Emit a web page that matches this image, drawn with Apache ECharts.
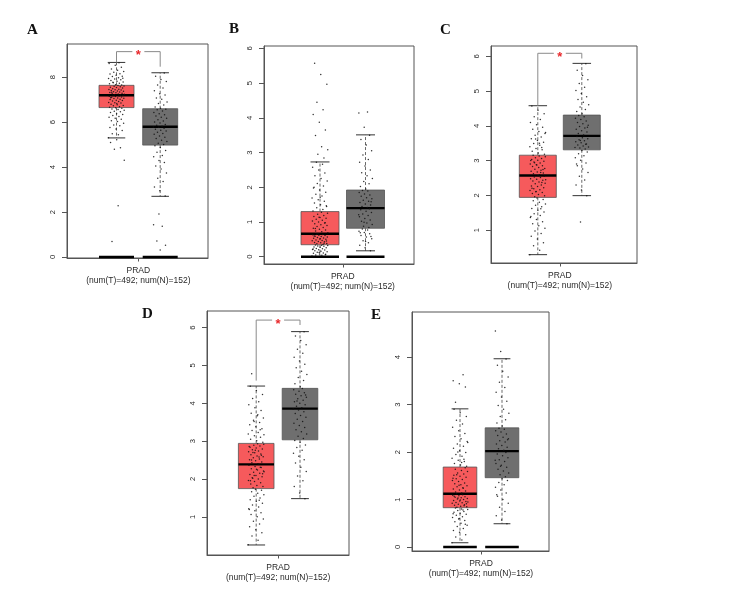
<!DOCTYPE html>
<html><head><meta charset="utf-8">
<script src="https://cdn.jsdelivr.net/npm/echarts@6/dist/echarts.min.js"></script>
<style>html,body{margin:0;padding:0;background:#fff}#c{width:750px;height:600px}</style>
</head><body><div id="c"></div>
<script>
// ---------- DATA ----------
const panels = ['A', 'B', 'C', 'D', 'E'];
const xLabel = 'PRAD\n(num(T)=492; num(N)=152)';

// y tick labels
const yTicksA = [0, 2, 4, 6, 8];
const yTicksB = [0, 1, 2, 3, 4, 5, 6];
const yTicksC = [1, 2, 3, 4, 5, 6];
const yTicksD = [1, 2, 3, 4, 5, 6];
const yTicksE = [0, 1, 2, 3, 4];

// box stats: [lower whisker, Q1, median, Q3, upper whisker]
const boxA_T = [5.3, 6.65, 7.2, 7.64, 8.66];
const boxA_N = [2.7, 4.98, 5.8, 6.6, 8.2];
const boxB_T = [0, 0.345, 0.66, 1.30, 2.73];
const boxB_N = [0.17, 0.82, 1.40, 1.92, 3.51];
const boxC_T = [0.29, 1.94, 2.57, 3.155, 4.58];
const boxC_N = [1.99, 3.31, 3.71, 4.31, 5.80];
const boxD_T = [0.255, 1.745, 2.386, 2.94, 4.456];
const boxD_N = [1.48, 3.035, 3.86, 4.395, 5.895];
const boxE_T = [0.09, 0.828, 1.123, 1.684, 2.91];
const boxE_N = [0.49, 1.46, 2.02, 2.51, 3.965];

// zero bars (groups with expression 0 drawn as flat bars)
const zeroA = true, zeroB = true, zeroC = false, zeroD = false, zeroE = true;

// significance brackets: [bracket level, left leg end, right leg end]
const sigA = [9.14, 8.66, 8.47];
const sigB = null;
const sigC = [6.09, 4.58, 5.94];
const sigD = [6.2, 4.6, 6.07];
const sigE = null;

// jittered points
const ptsA_T = [5.31,5.44,5.49,5.63,5.7,5.76,5.84,5.87,5.95,6.03,6.06,6.13,6.18,6.22,6.25,6.3,6.34,6.37,6.43,6.46,6.49,6.53,6.56,6.59,6.62,6.64,
6.66,6.69,6.73,6.74,6.78,6.8,6.85,6.87,6.88,6.92,6.94,6.97,6.98,7.01,7.02,7.05,7.06,7.08,7.11,7.12,7.14,7.15,7.17,7.18,7.19,6.83,7.09,
7.21,7.22,7.24,7.25,7.27,7.29,7.31,7.32,7.34,7.36,7.38,7.39,7.41,7.43,7.44,7.46,7.47,7.49,7.52,7.54,7.55,7.58,7.6,7.61,7.63,7.33,
7.66,7.67,7.71,7.73,7.76,7.79,7.82,7.85,7.89,7.92,7.94,7.98,8.03,8.05,8.09,8.14,8.16,8.22,8.26,8.31,8.37,8.44,8.53,8.61,8.65,7.78,7.96,
5.22,5.1,4.86,4.79,4.31,2.28,0.69];
const ptsA_N = [2.71,2.95,3.12,3.36,3.5,3.74,3.92,4.05,4.21,4.3,4.46,4.52,4.66,4.74,4.87,4.95,
5.01,5.06,5.14,5.2,5.27,5.33,5.39,5.46,5.5,5.55,5.61,5.64,5.69,5.73,5.77,5.79,
5.82,5.86,5.9,5.96,6.01,6.05,6.11,6.17,6.22,6.28,6.33,6.37,6.43,6.5,6.55,6.58,
6.62,6.68,6.77,6.83,6.9,7.02,7.08,7.21,7.27,7.4,7.52,7.66,7.81,7.9,8.05,8.19,
1.91,1.43,1.37,0.71,0.52,0.31];
const ptsB_T = [0.02,0.04,0.05,0.07,0.08,0.1,0.11,0.13,0.14,0.16,0.17,0.19,0.2,0.21,0.23,0.24,0.26,0.27,0.28,0.3,0.31,0.32,0.33,0.34,0.06,0.12,0.22,
0.35,0.37,0.38,0.4,0.41,0.43,0.44,0.46,0.47,0.48,0.5,0.51,0.53,0.54,0.55,0.57,0.58,0.59,0.61,0.62,0.63,0.64,0.65,0.45,0.52,0.6,0.39,
0.67,0.69,0.72,0.74,0.77,0.79,0.82,0.84,0.87,0.9,0.92,0.95,0.97,1.0,1.03,1.05,1.08,1.11,1.13,1.16,1.19,1.22,1.25,1.28,0.81,0.98,1.14,
1.32,1.36,1.41,1.45,1.5,1.55,1.6,1.64,1.69,1.75,1.8,1.86,1.92,1.98,2.04,2.11,2.18,2.25,2.33,2.41,2.5,2.58,2.66,2.72,1.47,1.71,2.0,
2.84,2.95,3.08,3.17,3.49,3.65,3.87,4.1,4.23,4.45,4.97,5.25,5.57];
const ptsB_N = [0.17,0.26,0.33,0.4,0.46,0.52,0.57,0.61,0.66,0.7,0.73,0.77,0.8,0.58,0.44,0.69,
0.84,0.88,0.93,0.97,1.02,1.06,1.1,1.15,1.19,1.23,1.27,1.31,1.35,1.38,0.99,1.21,
1.42,1.45,1.49,1.52,1.56,1.6,1.63,1.67,1.7,1.74,1.78,1.81,1.85,1.89,1.91,1.58,
1.95,2.02,2.1,2.17,2.25,2.33,2.42,2.5,2.61,2.72,2.8,2.93,3.05,3.22,3.38,3.5,
3.73,4.14,4.17];
const ptsC_T = [0.29,0.42,0.55,0.63,0.74,0.82,0.9,0.97,1.05,1.12,1.18,1.24,1.3,1.36,1.42,1.47,1.52,1.57,1.62,1.67,1.71,1.75,1.8,1.84,1.88,1.92,1.39,1.61,
1.96,1.99,2.02,2.05,2.08,2.11,2.14,2.16,2.19,2.22,2.25,2.27,2.3,2.33,2.35,2.38,2.41,2.43,2.46,2.48,2.51,2.53,2.55,2.56,2.2,2.37,2.1,2.45,
2.59,2.62,2.64,2.67,2.69,2.72,2.75,2.77,2.8,2.83,2.85,2.88,2.9,2.93,2.96,2.98,3.01,3.03,3.06,3.08,3.11,3.13,3.15,2.74,2.87,3.0,2.66,2.94,
3.18,3.22,3.27,3.31,3.35,3.4,3.44,3.49,3.53,3.58,3.63,3.68,3.73,3.78,3.84,3.9,3.96,4.03,4.1,4.18,4.26,4.35,4.45,4.57,3.38,3.62,3.81,3.5];
const ptsC_N = [1.99,2.15,2.3,2.44,2.55,2.66,2.76,2.85,2.93,3.01,3.08,3.14,3.2,3.25,3.29,2.9,
3.33,3.36,3.39,3.42,3.45,3.48,3.51,3.54,3.57,3.6,3.63,3.66,3.69,3.47,3.58,3.38,
3.74,3.78,3.82,3.86,3.9,3.94,3.98,4.02,4.06,4.1,4.14,4.18,4.22,4.26,4.3,3.96,
4.35,4.41,4.47,4.54,4.61,4.68,4.76,4.84,4.93,5.02,5.11,5.22,5.33,5.45,5.6,5.79,
1.23];
const ptsD_T = [0.26,0.38,0.49,0.58,0.66,0.74,0.81,0.88,0.94,1.0,1.06,1.11,1.16,1.21,1.26,1.31,1.36,1.41,1.45,1.5,1.54,1.58,1.62,1.66,1.7,1.73,1.19,1.44,
1.77,1.8,1.83,1.87,1.9,1.93,1.96,2.0,2.03,2.06,2.09,2.12,2.15,2.18,2.21,2.24,2.27,2.3,2.33,2.36,2.38,2.02,2.14,2.26,1.95,2.31,2.09,2.19,
2.4,2.43,2.45,2.48,2.51,2.53,2.56,2.59,2.61,2.64,2.66,2.69,2.72,2.74,2.77,2.79,2.82,2.84,2.87,2.89,2.92,2.93,2.5,2.63,2.76,2.86,2.58,2.7,
2.97,3.01,3.05,3.1,3.14,3.19,3.23,3.28,3.33,3.38,3.43,3.49,3.55,3.61,3.67,3.74,3.81,3.88,3.96,4.04,4.13,4.23,4.34,4.45,3.3,3.52,3.17,3.7,
4.78];
const ptsD_N = [1.48,1.63,1.8,1.95,2.08,2.2,2.31,2.42,2.51,2.6,2.68,2.76,2.83,2.9,2.97,3.02,
3.07,3.13,3.19,3.25,3.3,3.36,3.41,3.47,3.52,3.58,3.63,3.68,3.73,3.78,3.82,3.85,
3.88,3.92,3.96,4.0,4.04,4.08,4.12,4.16,4.2,4.24,4.28,4.32,4.36,4.39,4.06,4.22,
4.44,4.52,4.6,4.68,4.76,4.85,4.94,5.03,5.12,5.22,5.32,5.43,5.55,5.66,5.78,5.89];
const ptsE_T = [0.09,0.15,0.21,0.26,0.31,0.35,0.39,0.43,0.46,0.5,0.53,0.56,0.59,0.62,0.64,0.67,0.69,0.71,0.73,0.75,0.77,0.79,0.8,0.82,0.48,0.6,0.7,0.78,
0.84,0.85,0.86,0.88,0.89,0.9,0.92,0.93,0.94,0.96,0.97,0.98,1.0,1.01,1.02,1.04,1.05,1.06,1.08,1.09,1.1,1.12,0.91,0.99,1.07,0.87,1.03,0.95,
1.14,1.16,1.18,1.2,1.22,1.24,1.27,1.29,1.31,1.33,1.35,1.38,1.4,1.42,1.44,1.47,1.49,1.51,1.54,1.56,1.59,1.61,1.64,1.67,1.3,1.45,1.25,1.52,
1.7,1.73,1.76,1.8,1.83,1.87,1.91,1.95,1.99,2.03,2.08,2.12,2.17,2.22,2.28,2.33,2.39,2.45,2.52,2.59,2.67,2.75,2.83,2.9,1.85,2.0,2.2,1.78,
3.05,3.37,3.44,3.5,3.63];
const ptsE_N = [0.49,0.57,0.66,0.75,0.84,0.92,1.0,1.07,1.14,1.2,1.26,1.31,1.36,1.4,1.44,1.1,
1.48,1.52,1.56,1.6,1.64,1.68,1.72,1.76,1.8,1.84,1.88,1.92,1.96,1.99,1.7,1.83,
2.04,2.07,2.1,2.14,2.17,2.21,2.24,2.28,2.31,2.35,2.38,2.42,2.45,2.48,2.5,2.26,
2.55,2.61,2.68,2.75,2.82,2.9,2.98,3.07,3.16,3.26,3.36,3.47,3.58,3.7,3.83,3.96,
4.12,4.55];

// ---------- LAYOUT (pixels) ----------
const layout = {
  A: {left: 67,  top: 44,  w: 141, h: 214, yMin: -0.045, yMax: 9.48, cT: 49.5, cN: 93.2, hw: 17.5, lx: 33,  ly: 32},
  B: {left: 264, top: 46,  w: 150, h: 218, yMin: -0.21,  yMax: 6.07, cT: 56,   cN: 101.5, hw: 19, lx: 235, ly: 31},
  C: {left: 491, top: 46,  w: 146, h: 217, yMin: 0.05,   yMax: 6.30, cT: 46.8, cN: 90.8, hw: 18.5, lx: 446, ly: 32},
  D: {left: 207, top: 311, w: 142, h: 244, yMin: -0.01,  yMax: 6.44, cT: 49.2, cN: 93,   hw: 17.8, lx: 148, ly: 316},
  E: {left: 412, top: 312, w: 137, h: 239, yMin: -0.084, yMax: 4.95, cT: 48,   cN: 90,   hw: 16.8, lx: 377, ly: 317}
};
const source = {
  A: {ticks: yTicksA, bT: boxA_T, bN: boxA_N, pT: ptsA_T, pN: ptsA_N, zero: zeroA, sig: sigA},
  B: {ticks: yTicksB, bT: boxB_T, bN: boxB_N, pT: ptsB_T, pN: ptsB_N, zero: zeroB, sig: sigB},
  C: {ticks: yTicksC, bT: boxC_T, bN: boxC_N, pT: ptsC_T, pN: ptsC_N, zero: zeroC, sig: sigC},
  D: {ticks: yTicksD, bT: boxD_T, bN: boxD_N, pT: ptsD_T, pN: ptsD_N, zero: zeroD, sig: sigD},
  E: {ticks: yTicksE, bT: boxE_T, bN: boxE_N, pT: ptsE_T, pN: ptsE_N, zero: zeroE, sig: sigE}
};

const RED = '#F65A5C', GREY = '#6F6F6F', FRAME = '#555';
const FONT = '"Liberation Sans", Arial, sans-serif';

const grids = [], xAxes = [], yAxes = [], series = [], graphics = [];

function jitter(i, w) { return (((i * 0.6180339887) % 1) - 0.5) * 2 * w; }

panels.forEach((k, gi) => {
  const L = layout[k], S = source[k];
  const mid = (L.cT + L.cN) / 2;
  grids.push({left: L.left, top: L.top, width: L.w, height: L.h, show: true, borderColor: FRAME, borderWidth: 1, backgroundColor: 'transparent'});
  xAxes.push({
    type: 'value', gridIndex: gi, min: 0, max: L.w, position: 'bottom',
    axisLine: {show: true, onZero: false, lineStyle: {color: FRAME, width: 1}},
    splitLine: {show: false},
    axisTick: {show: true, customValues: [mid], length: 3.5, lineStyle: {color: FRAME}},
    axisLabel: {show: true, customValues: [mid], formatter: () => xLabel, fontSize: 8.5, lineHeight: 9.5,
      color: '#2a2a2a', fontFamily: FONT, margin: 8}
  });
  yAxes.push({
    type: 'value', gridIndex: gi, min: L.yMin, max: L.yMax, position: 'left',
    axisLine: {show: true, onZero: false, lineStyle: {color: FRAME, width: 1}},
    splitLine: {show: false},
    axisTick: {show: true, customValues: S.ticks, length: 5, lineStyle: {color: FRAME}},
    axisLabel: {show: true, customValues: S.ticks, rotate: 90, fontSize: 7.6, color: '#2a2a2a', fontFamily: FONT, margin: 10}
  });

  // boxes
  series.push({
    type: 'custom', xAxisIndex: gi, yAxisIndex: gi, silent: true, z: 2, animation: false, clip: false,
    data: [[L.cT].concat(S.bT), [L.cN].concat(S.bN)],
    renderItem: (params, api) => {
      const cx = api.value(0);
      const lo = api.value(1), q1 = api.value(2), md = api.value(3), q3 = api.value(4), hi = api.value(5);
      const hw = L.hw;
      const col = params.dataIndex === 0 ? RED : GREY;
      const tl = api.coord([cx - hw, q3]), br = api.coord([cx + hw, q1]);
      const pHi = api.coord([cx, hi]), pLo = api.coord([cx, lo]);
      const pMdL = api.coord([cx - hw, md]), pMdR = api.coord([cx + hw, md]);
      const capL = api.coord([cx - hw / 2, hi])[0], capR = api.coord([cx + hw / 2, hi])[0];
      const xc = pHi[0];
      return {type: 'group', children: [
        {type: 'line', shape: {x1: xc, y1: tl[1], x2: xc, y2: pHi[1]}, style: {stroke: '#444', lineWidth: 0.8, lineDash: [3, 2]}},
        {type: 'line', shape: {x1: xc, y1: br[1], x2: xc, y2: pLo[1]}, style: {stroke: '#444', lineWidth: 0.8, lineDash: [3, 2]}},
        {type: 'line', shape: {x1: capL, y1: pHi[1], x2: capR, y2: pHi[1]}, style: {stroke: '#333', lineWidth: 1}},
        {type: 'line', shape: {x1: capL, y1: pLo[1], x2: capR, y2: pLo[1]}, style: {stroke: '#333', lineWidth: 1}},
        {type: 'rect', shape: {x: tl[0], y: tl[1], width: br[0] - tl[0], height: br[1] - tl[1]},
          style: {fill: col, stroke: '#555', lineWidth: 0.8}},
        {type: 'line', shape: {x1: pMdL[0], y1: pMdL[1], x2: pMdR[0], y2: pMdR[1]}, style: {stroke: '#000', lineWidth: 2.4}}
      ]};
    }
  });

  // points
  series.push({
    type: 'scatter', xAxisIndex: gi, yAxisIndex: gi, silent: true, z: 3, animation: false,
    symbol: 'circle', symbolSize: 1.5, itemStyle: {color: '#111', opacity: 0.85},
    data: S.pT.map((v, i) => [L.cT + jitter(i, 8), v])
  });
  series.push({
    type: 'scatter', xAxisIndex: gi, yAxisIndex: gi, silent: true, z: 3, animation: false,
    symbol: 'circle', symbolSize: 1.5, itemStyle: {color: '#111', opacity: 0.85},
    data: S.pN.map((v, i) => [L.cN + jitter(i + 3, 7), v])
  });

  // zero bars
  if (S.zero) {
    series.push({
      type: 'custom', xAxisIndex: gi, yAxisIndex: gi, silent: true, z: 4, animation: false,
      data: [[L.cT, 0], [L.cN, 0]],
      renderItem: (params, api) => {
        const a = api.coord([api.value(0) - L.hw, api.value(1)]);
        const b = api.coord([api.value(0) + L.hw, api.value(1)]);
        return {type: 'line', shape: {x1: a[0], y1: a[1], x2: b[0], y2: b[1]}, style: {stroke: '#000', lineWidth: 2.6}};
      }
    });
  }

  // significance bracket
  if (S.sig) {
    series.push({
      type: 'custom', xAxisIndex: gi, yAxisIndex: gi, silent: true, z: 5, animation: false, clip: false,
      data: [[L.cT, L.cN].concat(S.sig)],
      renderItem: (params, api) => {
        const x1 = api.value(0), x2 = api.value(1), lev = api.value(2), le = api.value(3), re = api.value(4);
        const a = api.coord([x1, le]), b = api.coord([x1, lev]), c = api.coord([x2, lev]), d = api.coord([x2, re]);
        const mx = (b[0] + c[0]) / 2;
        return {type: 'group', children: [
          {type: 'polyline', shape: {points: [a, b, c, d]}, style: {stroke: '#8a8a8a', lineWidth: 1, fill: null}},
          {type: 'rect', shape: {x: mx - 6, y: b[1] - 4, width: 12, height: 8}, style: {fill: '#fff'}},
          {type: 'text', style: {text: '*', x: mx, y: b[1] + 4, fill: '#E8282B', font: 'bold 13px ' + FONT,
            align: 'center', verticalAlign: 'middle'}}
        ]};
      }
    });
  }

  graphics.push({type: 'text', left: L.lx - 6, top: L.ly - 9,
    style: {text: k, font: 'bold 15px "Liberation Serif", "Times New Roman", serif', fill: '#111'}});
});

const chart = echarts.init(document.getElementById('c'), null, {renderer: 'canvas'});
chart.setOption({
  animation: false,
  backgroundColor: '#fff',
  grid: grids, xAxis: xAxes, yAxis: yAxes, series: series, graphic: graphics
});
</script>
</body></html>
